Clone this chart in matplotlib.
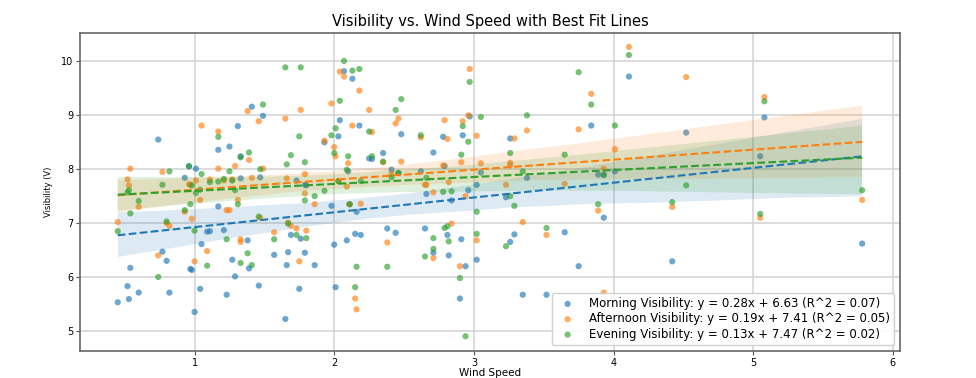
import matplotlib
matplotlib.use("Agg")
import matplotlib.pyplot as plt
import numpy as np
import seaborn as sns

# Wind speed readings (shared by the three visibility series).
wind_speed = [
    0.45, 0.52, 0.54, 0.53, 0.60, 0.74, 0.77, 0.80, 0.82, 0.93,
    0.96, 0.97, 0.98, 1.00, 1.01, 1.04, 1.05, 1.09, 1.11, 1.17,
    1.17, 1.21, 1.23, 1.25, 1.27, 1.29, 1.31, 1.33, 1.33, 1.38,
    1.39, 1.41, 1.46, 1.49, 1.47, 1.57, 1.65, 1.66, 1.67, 1.69,
    1.73, 1.75, 1.76, 1.79, 1.79, 1.80, 1.86, 1.93, 1.98, 2.00,
    2.01, 2.03, 2.04, 2.07, 2.09, 2.10, 2.11, 2.13, 2.15, 2.16,
    2.18, 2.19, 2.25, 2.27, 2.35, 2.38, 2.41, 2.44, 2.46, 2.48,
    2.62, 2.65, 2.66, 2.71, 2.71, 2.78, 2.79, 2.81, 2.82, 2.84,
    2.90, 2.91, 2.92, 2.94, 2.96, 2.97, 3.02, 3.02, 3.05, 3.23,
    3.26, 3.26, 3.29, 3.35, 3.38, 3.52, 3.65, 3.75, 3.84, 3.89,
    3.93, 3.93, 4.01, 4.11, 4.42, 4.52, 5.05, 5.08, 5.78,
]

morning = [
    5.53, 5.83, 6.17, 5.59, 5.71, 8.55, 6.47, 6.30, 5.71, 7.84,
    8.05, 6.15, 6.13, 5.35, 8.01, 5.78, 6.61, 6.84, 6.85, 8.36,
    7.31, 6.87, 5.67, 8.42, 6.32, 6.01, 8.80, 7.83, 8.24, 6.68,
    6.16, 9.16, 5.84, 8.99, 7.85, 6.41, 5.22, 6.22, 6.46, 6.78,
    7.79, 5.78, 6.71, 6.45, 7.71, 7.70, 6.22, 8.50, 7.32, 6.60,
    5.81, 8.61, 8.91, 9.82, 6.68, 7.96, 7.35, 9.68, 6.80, 7.21,
    8.81, 6.78, 8.20, 8.19, 8.30, 6.90, 7.99, 6.82, 7.93, 8.65,
    7.96, 6.90, 7.54, 8.31, 6.45, 8.60, 8.06, 6.78, 6.40, 7.42,
    5.60, 6.70, 8.63, 6.20, 7.61, 8.98, 6.32, 7.71, 7.94, 7.48,
    6.65, 8.57, 6.79, 5.67, 7.84, 5.67, 6.83, 6.20, 8.81, 7.90,
    7.10, 7.90, 7.96, 9.72, 6.29, 8.68, 8.24, 8.96, 6.62,
]

afternoon = [
    7.02, 7.81, 8.01, 7.70, 7.30, 6.40, 7.95, 7.00, 6.95, 7.21,
    7.72, 7.71, 7.08, 6.29, 7.79, 7.43, 8.81, 6.48, 7.81, 8.70,
    8.01, 7.79, 7.24, 7.24, 7.81, 8.06, 7.43, 6.65, 6.70, 9.08,
    8.17, 7.84, 8.89, 8.01, 7.10, 6.83, 8.94, 7.83, 7.01, 6.95,
    6.90, 6.29, 9.10, 7.91, 7.55, 6.86, 7.35, 8.53, 9.22, 8.41,
    8.24, 7.78, 9.81, 9.72, 7.68, 8.11, 7.35, 8.81, 5.60, 5.40,
    9.46, 7.36, 9.10, 8.69, 8.13, 6.64, 7.91, 8.85, 8.94, 8.14,
    8.59, 7.71, 7.71, 6.35, 7.57, 8.07, 8.91, 8.56, 7.76, 6.99,
    6.20, 8.13, 8.89, 7.50, 9.00, 9.86, 6.68, 8.62, 8.11, 7.71,
    8.12, 8.07, 8.57, 7.02, 8.72, 6.78, 7.73, 8.74, 9.40, 7.23,
    5.71, 8.01, 8.37, 10.27, 7.30, 9.71, 7.10, 9.34, 7.43,
]

evening = [
    6.85, 7.57, 7.18, 7.61, 7.41, 6.00, 7.71, 7.03, 7.96, 7.24,
    8.06, 7.35, 7.70, 6.86, 7.56, 7.62, 7.91, 6.21, 7.76, 8.60,
    7.77, 7.82, 6.70, 7.96, 7.79, 7.61, 7.35, 6.26, 8.22, 6.44,
    8.31, 6.22, 7.12, 9.20, 8.00, 6.70, 9.89, 8.09, 6.99, 8.26,
    6.78, 8.61, 9.89, 8.13, 7.42, 6.72, 7.50, 7.60, 8.63, 8.30,
    8.76, 7.78, 9.27, 10.01, 7.99, 8.24, 7.35, 9.83, 5.81, 6.19,
    9.86, 7.78, 8.70, 8.24, 8.14, 6.19, 7.85, 9.10, 7.93, 9.30,
    8.63, 6.38, 7.84, 6.72, 6.52, 7.58, 6.91, 6.94, 6.66, 7.59,
    5.98, 8.27, 8.80, 4.90, 8.51, 9.62, 7.21, 6.80, 8.97, 6.57,
    7.50, 8.30, 7.32, 7.96, 9.00, 6.91, 8.27, 9.80, 9.20, 7.35,
    5.50, 7.89, 8.81, 10.12, 7.39, 7.70, 7.17, 9.26, 7.61,
]

labels = [
    "Morning Visibility: y = 0.28x + 6.63 (R^2 = 0.07)",
    "Afternoon Visibility: y = 0.19x + 7.41 (R^2 = 0.05)",
    "Evening Visibility: y = 0.13x + 7.47 (R^2 = 0.02)",
]
colors = ["#1f77b4", "#ff7f0e", "#2ca02c"]

fig = plt.figure(figsize=(9.76, 3.78), dpi=100)
ax = fig.add_axes([0.082, 0.072, 0.84, 0.841])

x = np.array(wind_speed)
for y, lab, col in zip([morning, afternoon, evening], labels, colors):
    y = np.array(y)
    ax.scatter(x, y, s=20, color=col, alpha=0.65, edgecolors="none", label=lab)
    sns.regplot(x=x, y=y, ax=ax, scatter=False, color=col, seed=0,
                line_kws={"linestyle": "--", "linewidth": 1.5})

ax.set_title("Visibility vs. Wind Speed with Best Fit Lines", fontsize=10.5, pad=5)
ax.set_xlabel("Wind Speed", fontsize=7.5, labelpad=0)
ax.set_ylabel("Visibility (V)", fontsize=6, labelpad=6)
ax.tick_params(labelsize=7, length=3, pad=2, color="#555555")
ax.set_xlim(0.18, 6.05)
ax.set_ylim(4.63, 10.53)
ax.grid(True, color="#d5d5d5", linewidth=1.2)
ax.set_axisbelow(True)
for s in ax.spines.values():
    s.set_color("#666666")
    s.set_linewidth(1.2)

ax.legend(loc="lower right", fontsize=8.5, markerscale=1.0, handletextpad=0.8,
          borderpad=0.35, labelspacing=0.2, framealpha=0.9)

fig.savefig("out.png", dpi=100)
